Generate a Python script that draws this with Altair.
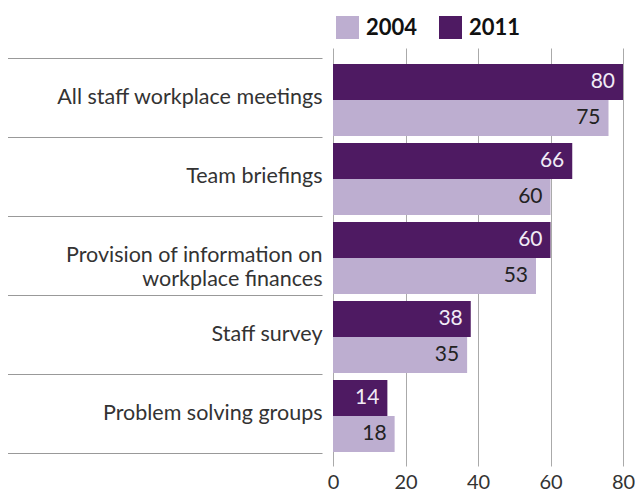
import altair as alt
import pandas as pd

categories = [
    "All staff workplace meetings",
    "Team briefings",
    "Provision of information on|workplace finances",
    "Staff survey",
    "Problem solving groups",
]
years = ["2004", "2011"]
# bar lengths as drawn
bars_2004 = [76, 60, 56, 37, 17]
bars_2011 = [80, 66, 60, 38, 15]
# value labels as printed
labels_2004 = [75, 60, 53, 35, 18]
labels_2011 = [80, 66, 60, 38, 14]

rows = []
for i, c in enumerate(categories):
    rows.append({"category": c, "year": "2011", "value": bars_2011[i], "label": labels_2011[i]})
    rows.append({"category": c, "year": "2004", "value": bars_2004[i], "label": labels_2004[i]})
df = pd.DataFrame(rows)

FONT = "Lato"
LIGHT = "#bdaed0"
DARK = "#4e1a62"

y_enc = alt.Y(
    "category:N",
    sort=categories,
    scale=alt.Scale(paddingInner=0, paddingOuter=0.1456, align=0.435),
    axis=alt.Axis(
        title=None,
        domain=False,
        offset=11,
        tickBand="extent",
        tickSize=317,
        tickColor="#999999",
        tickWidth=1,
        labelPadding=-317,
        labelFontSize=21.5,
        labelFont=FONT,
        labelColor="#333333",
        labelLimit=400,
        labelExpr="split(datum.label, '|')",
        labelLineHeight=24,
        grid=False,
    ),
)
yoff_enc = alt.YOffset(
    "year:N",
    sort=["2011", "2004"],
    scale=alt.Scale(paddingInner=0, paddingOuter=0.1, align=0.85),
)
x_enc = alt.X(
    "value:Q",
    scale=alt.Scale(domain=[0, 80], nice=False),
    axis=alt.Axis(
        title=None,
        values=[0, 20, 40, 60, 80],
        grid=True,
        gridColor="#aaaaaa",
        gridWidth=1,
        domain=False,
        ticks=False,
        labelFontSize=20,
        labelFont=FONT,
        labelColor="#333333",
        labelPadding=6,
        labelFlush=False,
    ),
)

bars = alt.Chart(df).mark_bar().encode(
    x=x_enc,
    y=y_enc,
    yOffset=yoff_enc,
    color=alt.Color(
        "year:N",
        scale=alt.Scale(domain=years, range=[LIGHT, DARK]),
        legend=alt.Legend(
            title=None,
            orient="none",
            legendX=3,
            legendY=-32,
            direction="horizontal",
            symbolType="square",
            symbolSize=529,
            symbolStrokeWidth=0,
            symbolOpacity=1,
            labelFontSize=22,
            labelFont=FONT,
            labelFontWeight="bold",
            labelColor="#111111",
            labelOffset=7,
            columnPadding=21,
            padding=0,
        ),
    ),
)

text = alt.Chart(df).mark_text(
    align="right", baseline="middle", dx=-8, font=FONT, fontSize=21
).encode(
    x=alt.X("value:Q"),
    y=alt.Y("category:N", sort=categories),
    yOffset=alt.YOffset("year:N", sort=["2011", "2004"]),
    text=alt.Text("label:Q"),
    color=alt.condition("datum.year == '2011'", alt.value("#f1ebf6"), alt.value("#222222")),
)

chart = (
    alt.layer(bars, text)
    .properties(
        width=290,
        height=418,
        autosize=alt.AutoSizeParams(type="none"),
        padding={"left": 325, "top": 40, "right": 12, "bottom": 27},
    )
    .configure_view(stroke=None)
)

chart.save("out.html", embed_options={"renderer": "svg", "actions": False})
